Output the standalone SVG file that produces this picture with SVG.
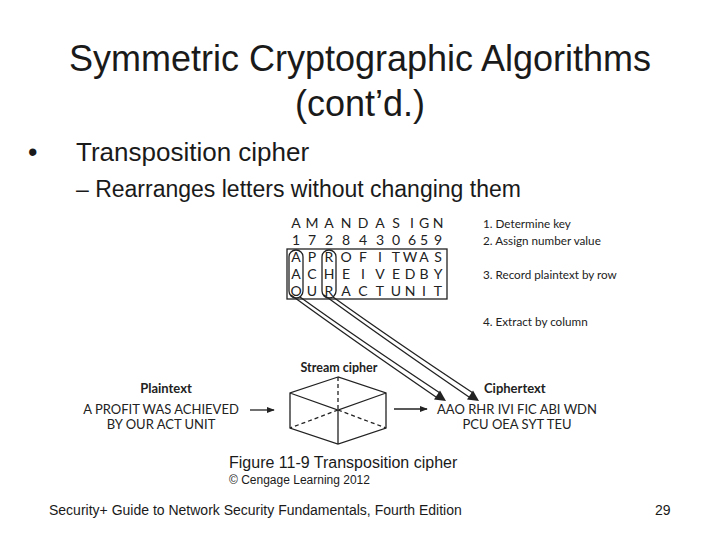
<svg xmlns="http://www.w3.org/2000/svg" width="720" height="540" viewBox="0 0 720 540">
<style>
.t{font-family:"Liberation Sans",Arial,sans-serif;fill:#1a1a1a}
.g{font-family:Lato,"Open Sans",sans-serif;fill:#222}
.gb{font-family:Lato,"Open Sans",sans-serif;font-weight:bold;fill:#222}
.ln{stroke:#222;fill:none;stroke-width:1.3}
.ds{stroke:#222;fill:none;stroke-width:1.3;stroke-dasharray:4,3}
.hd{fill:#222;stroke:none}
</style>
<defs>
<marker id="ah" viewBox="0 0 10 10" refX="9" refY="5" markerWidth="8" markerHeight="8" orient="auto" markerUnits="userSpaceOnUse">
<path d="M0,1 L10,5 L0,9 z" fill="#222"/>
</marker>
</defs>
<rect width="720" height="540" fill="#fff"/>
<g id="title">
<text class="t" x="360" y="71" font-size="36" text-anchor="middle">Symmetric Cryptographic Algorithms</text>
<text class="t" x="360" y="116" font-size="36" text-anchor="middle">(cont’d.)</text>
</g>
<g id="bullets">
<text class="t" x="28" y="161" font-size="27">•</text>
<text class="t" x="76" y="161" font-size="26">Transposition cipher</text>
<text class="t" x="76" y="197" font-size="23">– Rearranges letters without changing them</text>
</g>
<g id="grid" class="g" font-size="14" text-anchor="middle">
<text y="228"><tspan x="296">A</tspan><tspan x="312">M</tspan><tspan x="329">A</tspan><tspan x="346">N</tspan><tspan x="363">D</tspan><tspan x="380">A</tspan><tspan x="396">S</tspan><tspan x="412">I</tspan><tspan x="424">G</tspan><tspan x="438">N</tspan></text>
<text y="245"><tspan x="296">1</tspan><tspan x="312">7</tspan><tspan x="329">2</tspan><tspan x="346">8</tspan><tspan x="363">4</tspan><tspan x="380">3</tspan><tspan x="396">0</tspan><tspan x="412">6</tspan><tspan x="424">5</tspan><tspan x="438">9</tspan></text>
<text y="262"><tspan x="296">A</tspan><tspan x="312">P</tspan><tspan x="329">R</tspan><tspan x="346">O</tspan><tspan x="363">F</tspan><tspan x="380">I</tspan><tspan x="396">T</tspan><tspan x="410">W</tspan><tspan x="424">A</tspan><tspan x="438">S</tspan></text>
<text y="279"><tspan x="296">A</tspan><tspan x="312">C</tspan><tspan x="329">H</tspan><tspan x="346">E</tspan><tspan x="363">I</tspan><tspan x="380">V</tspan><tspan x="396">E</tspan><tspan x="410">D</tspan><tspan x="424">B</tspan><tspan x="438">Y</tspan></text>
<text y="296"><tspan x="296">O</tspan><tspan x="312">U</tspan><tspan x="329">R</tspan><tspan x="346">A</tspan><tspan x="363">C</tspan><tspan x="380">T</tspan><tspan x="396">U</tspan><tspan x="410">N</tspan><tspan x="424">I</tspan><tspan x="438">T</tspan></text>
</g>
<g id="gridbox">
<rect class="ln" x="287" y="249" width="160" height="50"/>
<rect class="ln" x="289" y="250" width="14" height="48" rx="7"/>
<rect class="ln" x="322" y="250" width="14" height="48" rx="7"/>
</g>
<g id="steps" class="g" font-size="11.7">
<text x="483" y="228">1. Determine key</text>
<text x="483" y="245">2. Assign number value</text>
<text x="483" y="279">3. Record plaintext by row</text>
<text x="483" y="326">4. Extract by column</text>
</g>
<g id="plaintext" text-anchor="middle">
<text class="gb" x="166" y="393" font-size="13">Plaintext</text>
<text class="g" x="161" y="414" font-size="13">A PROFIT WAS ACHIEVED</text>
<text class="g" x="161" y="429" font-size="13">BY OUR ACT UNIT</text>
</g>
<g id="streamcipher">
<text class="gb" x="339" y="372" font-size="12.5" text-anchor="middle">Stream cipher</text>
<path class="ln" d="M338,377 L290,393 L290,428 L338,444 L386,428 L386,393 Z M290,393 L338,410 L386,393 M338,410 L338,444"/>
<path class="ds" d="M338,377 L338,410 M338,410 L290,428 M338,410 L386,428"/>
</g>
<g id="ciphertext">
<text class="gb" x="484" y="393" font-size="13">Ciphertext</text>
<text class="g" x="517" y="414" font-size="13" text-anchor="middle">AAO RHR IVI FIC ABI WDN</text>
<text class="g" x="517" y="429" font-size="13" text-anchor="middle">PCU OEA SYT TEU</text>
</g>
<g id="connectors">
<path class="ln" d="M250,410 L274,410" marker-end="url(#ah)"/>
<path class="ln" d="M394,409 L427,409" marker-end="url(#ah)"/>
<path class="ln" d="M291,295 Q350,338 436,397"/>
<path class="ln" d="M300,297 Q360,340 440,393"/>
<path class="hd" d="M446,401 L434,399.5 L440,390.5 Z"/>
<path class="ln" d="M324,295 Q383,338 469,397"/>
<path class="ln" d="M333,297 Q393,340 473,393"/>
<path class="hd" d="M479,401 L467,399.5 L473,390.5 Z"/>
</g>
<g id="caption">
<text class="t" x="229" y="468" font-size="16">Figure 11-9 Transposition cipher</text>
<text class="t" x="229" y="484" font-size="12">© Cengage Learning 2012</text>
</g>
<g id="footer">
<text class="t" x="49" y="515" font-size="14">Security+ Guide to Network Security Fundamentals, Fourth Edition</text>
<text class="t" x="655" y="515" font-size="14">29</text>
</g>
</svg>
